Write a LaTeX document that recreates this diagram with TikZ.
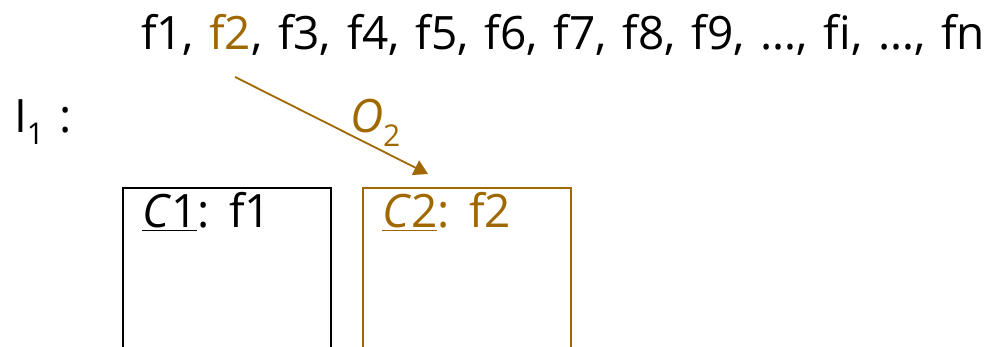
\documentclass[tikz,border=0pt]{standalone}
\usepackage{fontspec}
\setmainfont[Ligatures=NoCommon,WordSpace=1.32]{Open Sans}
\usetikzlibrary{arrows.meta,calc}
\definecolor{brn}{RGB}{160,104,0}
\tikzset{
  lbl/.style={inner sep=0pt, outer sep=0pt, font=\fontsize{46}{52}\selectfont},
  boxline/.style={line width=2pt},
  arr/.style={brn, line width=1.8pt, -{Triangle[length=14pt,width=16pt]}}
}
\begin{document}
\begin{tikzpicture}[x=1pt,y=1pt]
\useasboundingbox (0,0) rectangle (997,-347);
% top sequence
\node[lbl, anchor=base west] (s1) at (141,-50) {f1,};
\node[lbl, anchor=base west, text=brn] (f2) at ($(s1.base east)+(15,0)$) {f2};
\node[lbl, anchor=base west] (s3) at (f2.base east) {, f3, f4, f5, f6, f7, f8, f9, …, fi, …, fn};
% I1 label
\node[lbl, anchor=base west] (I1) at (14,-133) {I\raisebox{-0.25em}{\fontsize{30}{32}\selectfont 1}\,\,:};
% O2 label
\node[lbl, anchor=base west, text=brn] (O2) at (350,-133) {\textit{O}\raisebox{-0.3em}{\fontsize{30}{32}\selectfont 2}};
% boxes
\coordinate (b1bl) at (123,-350);
\coordinate (b1tl) at (123,-188);
\coordinate (b1tr) at (331,-188);
\coordinate (b1br) at (331,-350);
\draw[boxline] (b1bl) -- (b1tl) -- (b1tr) -- (b1br);
\coordinate (b2bl) at (363,-350);
\coordinate (b2tl) at (363,-188);
\coordinate (b2tr) at (571,-188);
\coordinate (b2br) at (571,-350);
\draw[boxline, brn] (b2bl) -- (b2tl) -- (b2tr) -- (b2br);
\node[lbl, anchor=base west] (c1) at (142,-228) {\underline{\textit{C}1}: f1};
\node[lbl, anchor=base west, text=brn] (c2) at (382,-228) {\underline{\textit{C}2}: f2};
% arrow
\coordinate (tip) at (428,-174);
\draw[arr] ($(f2.south)+(5,-27)$) -- (tip);
\end{tikzpicture}
\end{document}
